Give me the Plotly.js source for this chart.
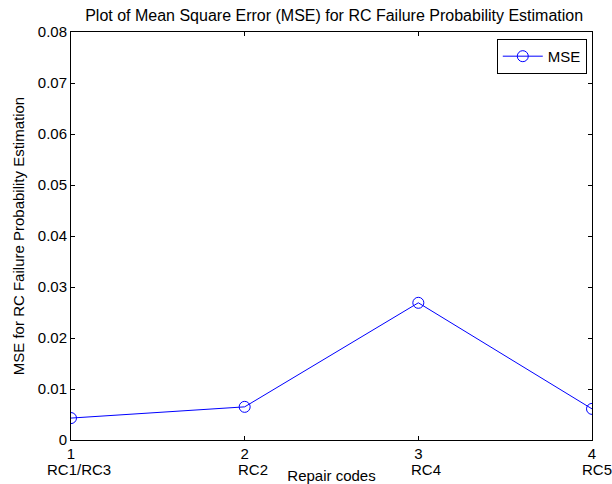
<!DOCTYPE html>
<html>
<head>
<meta charset="utf-8">
<script src="https://cdn.plot.ly/plotly-3.0.1.min.js"></script>
<style>
  html, body { margin: 0; padding: 0; background: #fff; }
  #chart { width: 612px; height: 484px; }
</style>
</head>
<body>
<div id="chart"></div>
<script>
// Repair code positions and their labels
const codeIndex = [1, 2, 3, 4];
const codeNames = ['RC1/RC3', 'RC2', 'RC4', 'RC5'];
// Mean square error per repair code
const mseValues = [0.0043, 0.0065, 0.0269, 0.0061];
const yTicks = [0, 0.01, 0.02, 0.03, 0.04, 0.05, 0.06, 0.07, 0.08];

const family = 'Liberation Sans, Arial, sans-serif';
const font = { family: family, size: 15, color: '#000' };

const trace = {
  x: codeIndex,
  y: mseValues,
  type: 'scatter',
  mode: 'lines+markers',
  name: 'MSE',
  line: { color: '#0000ff', width: 1 },
  marker: { symbol: 'circle-open', size: 11, color: '#0000ff', line: { width: 1, color: '#0000ff' } }
};

// Repair code names written under the numeric ticks
// (the last one is nudged less so it stays inside the page)
const codeLabels = codeNames.map((name, i) => ({
  x: codeIndex[i],
  xref: 'x',
  y: -0.0735,
  yref: 'paper',
  text: name,
  showarrow: false,
  xanchor: 'center',
  yanchor: 'middle',
  xshift: i === codeNames.length - 1 ? 5 : 8,
  font: font
}));

const layout = {
  width: 612,
  height: 484,
  margin: { l: 71, r: 20, t: 32, b: 44 },
  paper_bgcolor: '#fff',
  plot_bgcolor: '#fff',
  font: font,
  showlegend: true,
  title: {
    text: 'Plot of Mean Square Error (MSE) for RC Failure Probability Estimation',
    font: { family: family, size: 16, color: '#000' },
    x: 0.546, xanchor: 'center', y: 0.969, yanchor: 'middle'
  },
  xaxis: {
    range: [1, 4],
    tickvals: codeIndex,
    ticktext: codeIndex.map(String),
    ticks: 'inside',
    ticklen: 4,
    tickcolor: '#000',
    showgrid: false,
    zeroline: false,
    showline: true,
    linecolor: '#000',
    linewidth: 1,
    mirror: 'allticks',
    tickfont: font,
    title: { text: 'Repair codes', font: font, standoff: 9 },
    automargin: false
  },
  yaxis: {
    range: [0, 0.08],
    tickvals: yTicks,
    ticktext: yTicks.map(v => v === 0 ? '0' : v.toFixed(2)),
    ticks: 'inside',
    ticklen: 4,
    tickcolor: '#000',
    showgrid: false,
    zeroline: false,
    showline: true,
    linecolor: '#000',
    linewidth: 1,
    mirror: 'allticks',
    tickfont: font,
    title: { text: 'MSE for RC Failure Probability Estimation', font: font, standoff: 9 },
    automargin: false
  },
  annotations: codeLabels,
  legend: {
    x: 0.990, xanchor: 'right',
    y: 0.983, yanchor: 'top',
    bgcolor: '#fff',
    bordercolor: '#000',
    borderwidth: 1,
    font: font,
    itemwidth: 40
  }
};

Plotly.newPlot('chart', [trace], layout, { displayModeBar: false, staticPlot: true });
</script>
</body>
</html>
